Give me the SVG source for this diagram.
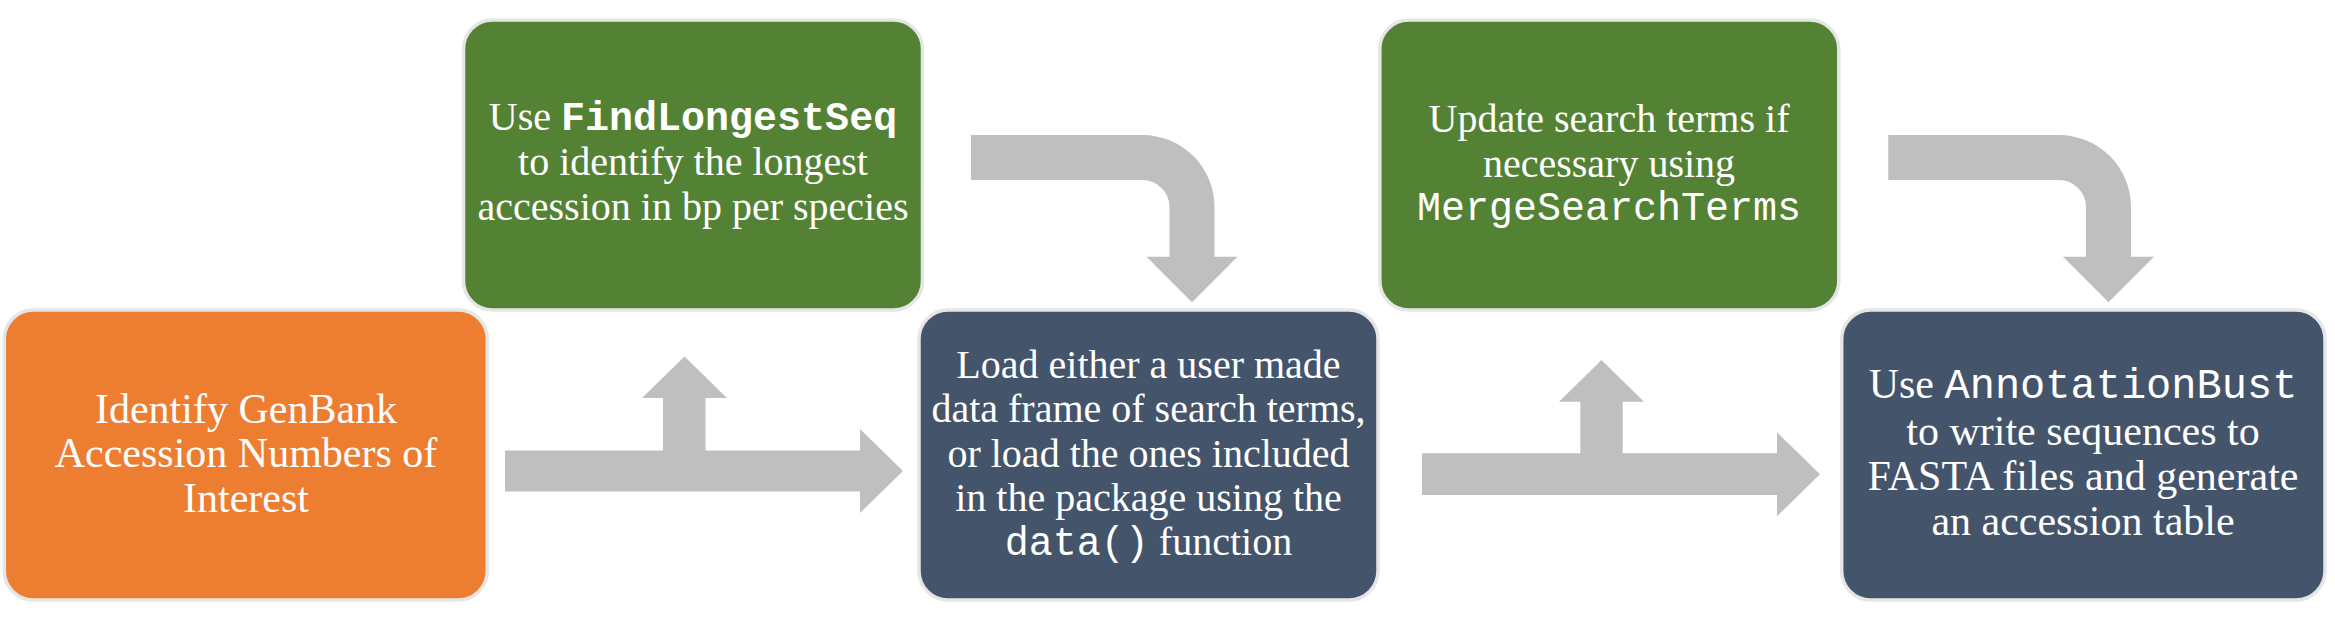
<svg xmlns="http://www.w3.org/2000/svg" width="2335" height="620" viewBox="0 0 2335 620">
  <style>
    .box { stroke: #e7e6e6; stroke-width: 3.5; }
    .orange { fill: #ed7d31; }
    .green { fill: #548235; }
    .navy { fill: #44546a; }
    .arrow { fill: #bfbfbf; stroke: none; }
    .t { font-family: "Liberation Serif", "Times New Roman", serif; fill: #ffffff; text-anchor: middle; }
    .s40 { font-size: 40px; }
    .s42 { font-size: 42px; }
    .mono { font-family: "Liberation Mono", "Courier New", monospace; }
    .bold { font-weight: bold; }
  </style>
  <rect width="2335" height="620" fill="#ffffff"/>

  <g id="connectors">
    <path class="arrow" d="M505,450.5 L663,450.5 L663,398 L642,398 L684.5,356.5 L727,398 L705.5,398 L705.5,450.5 L860,450.5 L860,429 L903,471 L860,513 L860,491.5 L505,491.5 Z"/>
    <path class="arrow" d="M1422,453.3 L1580.3,453.3 L1580.3,401.7 L1559,401.7 L1601.5,360 L1644,401.7 L1622.7,401.7 L1622.7,453.3 L1777,453.3 L1777,432.3 L1820,474.3 L1777,516.3 L1777,495 L1422,495 Z"/>
    <path class="arrow" d="M971,135 L1142.5,135 A72,72 0 0 1 1214.5,207 L1214.5,256.7 L1237.5,256.7 L1192,302.3 L1146.5,256.7 L1169.5,256.7 L1169.5,207 A27,27 0 0 0 1142.5,180 L971,180 Z"/>
    <path class="arrow" d="M1888.3,135 L2059,135 A72,72 0 0 1 2131,207 L2131,256.7 L2154,256.7 L2108.5,302.3 L2063,256.7 L2086,256.7 L2086,207 A27,27 0 0 0 2059,180 L1888.3,180 Z"/>
  </g>

  <g id="node-identify">
    <rect class="box orange" x="4.3" y="310" width="483" height="290" rx="29"/>
    <text class="t s42" x="246" y="423">Identify GenBank</text>
    <text class="t s42" x="246" y="467">Accession Numbers of</text>
    <text class="t s42" x="246" y="512">Interest</text>
  </g>

  <g id="node-findlongest">
    <rect class="box green" x="463.5" y="20" width="459" height="290" rx="29"/>
    <text class="t s40" x="693" y="130">Use <tspan class="mono bold">FindLongestSeq</tspan></text>
    <text class="t s40" x="693" y="175">to identify the longest</text>
    <text class="t s40" x="693" y="220">accession in bp per species</text>
  </g>

  <g id="node-load">
    <rect class="box navy" x="919" y="310" width="459" height="290" rx="29"/>
    <text class="t s40" x="1148.5" y="378">Load either a user made</text>
    <text class="t s40" x="1148.5" y="422.3">data frame of search terms,</text>
    <text class="t s40" x="1148.5" y="466.6">or load the ones included</text>
    <text class="t s40" x="1148.5" y="511">in the package using the</text>
    <text class="t s40" x="1148.5" y="555"><tspan class="mono">data()</tspan> function</text>
  </g>

  <g id="node-update">
    <rect class="box green" x="1379.8" y="20" width="459" height="290" rx="29"/>
    <text class="t s40" x="1609" y="131.5">Update search terms if</text>
    <text class="t s40" x="1609" y="176.5">necessary using</text>
    <text class="t s40 mono" x="1609" y="219.5">MergeSearchTerms</text>
  </g>

  <g id="node-annotation">
    <rect class="box navy" x="1841.7" y="310" width="483.3" height="290" rx="29"/>
    <text class="t s42" x="2083" y="398.3">Use <tspan class="mono">AnnotationBust</tspan></text>
    <text class="t s42" x="2083" y="445">to write sequences to</text>
    <text class="t s42" x="2083" y="490">FASTA files and generate</text>
    <text class="t s42" x="2083" y="535">an accession table</text>
  </g>
</svg>
